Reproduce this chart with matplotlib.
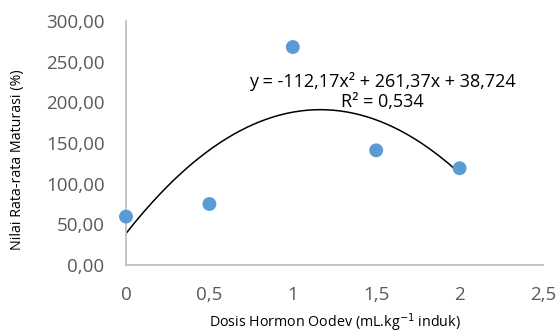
import numpy as np
import matplotlib.pyplot as plt
from matplotlib.ticker import FuncFormatter

# data
dosis = [0, 0.5, 1, 1.5, 2]
maturasi = [59.5, 75, 268, 141, 119]
coef = [-112.17, 261.37, 38.724]
x_ticks = [0, 0.5, 1, 1.5, 2, 2.5]
y_ticks = [0, 50, 100, 150, 200, 250, 300]

plt.rcParams['font.family'] = ['Open Sans', 'DejaVu Sans']

fig = plt.figure(figsize=(5.57, 3.33), dpi=100)
ax = fig.add_axes([126/557, 1-265/333, (543-126)/557, (265-21)/333])

ax.scatter(dosis, maturasi, s=100, color='#5b9bd5', zorder=3, edgecolors='none', clip_on=False)

xs = np.linspace(0, 2, 200)
ax.plot(xs, np.polyval(coef, xs), color='black', lw=1.1, zorder=2)

ax.set_xlim(0, 2.5)
ax.set_ylim(0, 300)
ax.set_xticks(x_ticks)
ax.set_yticks(y_ticks)
ax.xaxis.set_major_formatter(FuncFormatter(lambda v, p: ('%g' % v).replace('.', ',')))
ax.yaxis.set_major_formatter(FuncFormatter(lambda v, p: ('%.2f' % v).replace('.', ',')))
ax.tick_params(length=0, labelsize=13.5, colors='#595959')
ax.tick_params(axis='y', pad=15.5)
ax.tick_params(axis='x', pad=15)

for s in ['top', 'right']:
    ax.spines[s].set_visible(False)
for s in ['left', 'bottom']:
    ax.spines[s].set_color('#bfbfbf')
    ax.spines[s].set_linewidth(1.3)

ax.set_xlabel('Dosis Hormon Oodev (mL.kg$^{-1}$ induk)', fontsize=10.3, color='black', va='center')
ax.set_ylabel('Nilai Rata-rata Maturasi (%)', fontsize=10.3, color='black', va='center')
ax.xaxis.set_label_coords(0.5, -0.236)
ax.yaxis.set_label_coords(-0.259, 0.43)

ax.text(1.535, 213, 'y = -112,17x² + 261,37x + 38,724\nR² = 0,534',
        fontsize=13, ha='center', va='center', multialignment='center', linespacing=1.15)

fig.savefig('out.png', dpi=100)
